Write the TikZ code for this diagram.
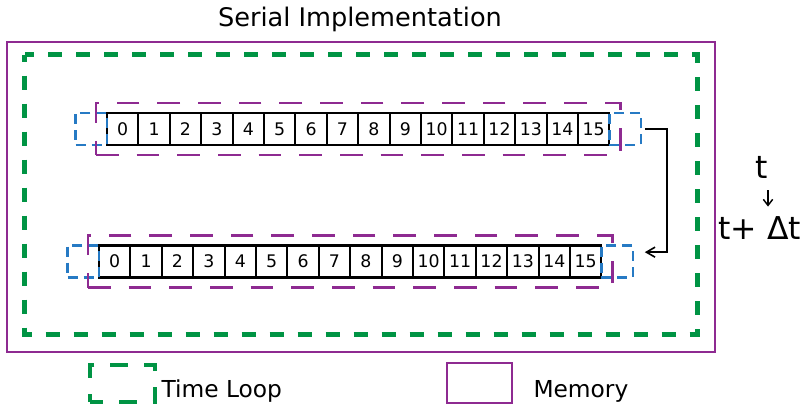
\documentclass[tikz,border=0pt]{standalone}
\usepackage{fontspec}
\setmainfont{DejaVu Sans}
\usetikzlibrary{positioning,fit,arrows.meta}

\definecolor{memPurple}{RGB}{142,42,145}
\definecolor{loopGreen}{RGB}{0,148,68}
\definecolor{haloBlue}{RGB}{38,122,196}

\tikzset{every picture/.style={line width=0.75pt}}
\tikzset{
  cell/.style={draw=black, line width=1.6pt, fill=white, minimum width=23.55pt, minimum height=24pt, inner sep=0pt, outer sep=0pt, text height=9.5pt, text depth=0pt, font=\fontsize{13}{15}\selectfont},
  halo/.style={draw=haloBlue, line width=1.7pt, dash pattern=on 7.5pt off 4.5pt, minimum width=23.55pt, minimum height=24pt, inner sep=0pt, outer sep=0pt},
  memdash/.style={draw=memPurple, line width=1.8pt, dash pattern=on 17pt off 13.5pt, inner xsep=8.25pt, inner ysep=7.5pt},
  flow/.style={line width=1.2pt, -{Straight Barb[length=6.5pt,width=7.5pt]}, shorten <=3pt, shorten >=9pt},
  tickarrow/.style={line width=1.1pt, -{Straight Barb[length=4.5pt,width=7pt]}, shorten <=8pt, shorten >=6pt},
  legendtext/.style={inner sep=0.75pt, font=\fontsize{17.5}{20}\selectfont}
}

\begin{document}
\begin{tikzpicture}[x=0.75pt,y=0.75pt,yscale=-1,xscale=1]
\useasboundingbox (0,0) rectangle (807,408);

%Shape: Rectangle [memory, outer]
\draw [memPurple, line width=2pt] (7,42) rectangle (715,352) ;
%Shape: Rectangle [time loop]
\draw [loopGreen, line width=3.4pt, dash pattern=on 10.5pt off 10.5pt, dash phase=5.25pt] (24.5,54.5) rectangle (697.5,334.5) ;

% Text Node
\node [anchor=base, inner sep=0.75pt, font=\fontsize{19.2}{22}\selectfont] (title) at (360,26) {Serial Implementation};

% row at t
\node [cell] (a0) at (122.7,129) {0};
\foreach \i [count=\j from 0] in {1,...,15}
  \node [cell, right=0pt of a\j] (a\i) {\i};
\node [halo, left=0pt of a0] (aL) {};
\node [halo, right=0pt of a15] (aR) {};
\node [memdash, fit=(a0)(a15)] (aMem) {};

% row at t+dt
\node [cell] (b0) at (114.7,261.5) {0};
\foreach \i [count=\j from 0] in {1,...,15}
  \node [cell, right=0pt of b\j] (b\i) {\i};
\node [halo, left=0pt of b0] (bL) {};
\node [halo, right=0pt of b15] (bR) {};
\node [memdash, fit=(b0)(b15)] (bMem) {};

%Connector
\draw [flow] (aR.east) -- ++(26,0) |- ([yshift=-7pt]bR.east) ;

% Text Node
\node [anchor=base, inner sep=0.75pt, font=\fontsize{23.6}{28}\selectfont] (tNow) at (762,178) {t};
% Text Node
\node [anchor=base west, inner sep=0.75pt, font=\fontsize{23.6}{28}\selectfont] (tNext) at (717,239) {t+ Δt};
\draw [tickarrow] ([xshift=4.5pt]tNow.south) -- ([xshift=4.5pt]tNow.south |- tNext.north) ;

% legend
\node [draw=loopGreen, line width=3pt, dash pattern=on 13pt off 12pt, dash phase=3pt, minimum width=48.75pt, minimum height=27.75pt] (legLoop) at (122.5,383.5) {};
\node [legendtext, anchor=base west] (legLoopText) at (160,397) {Time Loop};
\node [draw=memPurple, line width=1.5pt, minimum width=48.75pt, minimum height=30pt] (legMem) at (479.5,383) {};
\node [legendtext, anchor=base west] (legMemText) at (532,397) {Memory};

\end{tikzpicture}
\end{document}
